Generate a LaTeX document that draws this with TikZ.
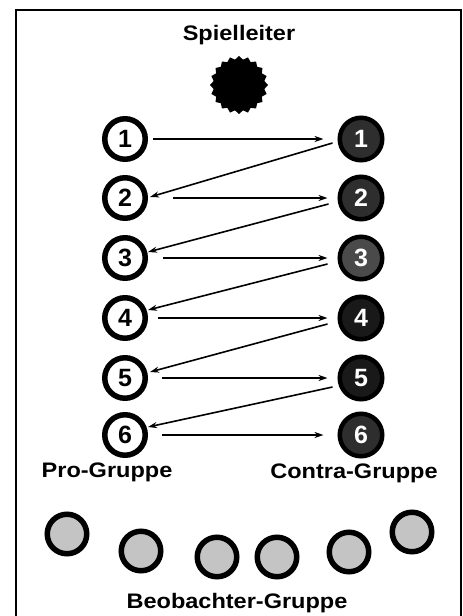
\documentclass[tikz,border=0pt]{standalone}
\usepackage{fontspec}
\usepackage{graphicx}
\setmainfont{Liberation Sans}
\usetikzlibrary{arrows.meta,shapes.geometric}
\definecolor{conFill}{HTML}{2E2E2E}
\definecolor{conFillB}{HTML}{4A4A4A}
\definecolor{obsFill}{HTML}{C4C4C4}
\newcommand{\wide}[1]{\scalebox{1.12}[1]{#1}}
\begin{document}
\begin{tikzpicture}[x=1pt,y=-1pt,
  lab/.style={font=\fontsize{21}{25}\selectfont\bfseries, anchor=base, inner sep=0pt},
  pro/.style={circle, draw=black, line width=5.5pt, fill=white, minimum size=40.5pt, inner sep=0pt, font=\fontsize{25}{25}\selectfont\bfseries},
  con/.style={circle, draw=black, line width=4.5pt, fill=conFill, text=white, minimum size=42.5pt, inner sep=0pt, font=\fontsize{25}{25}\selectfont\bfseries},
  obs/.style={circle, draw=black, line width=5.5pt, fill=obsFill, minimum size=39.5pt, inner sep=0pt},
  arr/.style={-{Stealth[length=9pt,width=6pt]}, line width=1.6pt},
  frame/.style={line width=2.5pt}
]
\useasboundingbox (0,0) rectangle (463,616);
\draw[frame] (16,618) -- (16,10) -- (461,10) -- (461,618);

% Spielleiter
\node[lab] (tSL) at (239,40) {\wide{Spielleiter}};
\node[star, star points=20, star point ratio=1.13, fill=black, minimum size=58pt, inner sep=0pt] (sl) at (239,85) {};

% Pro group
\node[pro] (l1) at (125,139) {1};
\node[pro] (l2) at (125,198) {2};
\node[pro] (l3) at (125,258) {3};
\node[pro] (l4) at (125,318) {4};
\node[pro] (l5) at (125,378) {5};
\node[pro] (l6) at (125,435) {6};

% Contra group
\node[con] (r1) at (361,139) {1};
\node[con] (r2) at (361,198) {2};
\node[con, fill=conFillB] (r3) at (361,258) {3};
\node[con, fill=black!90] (r4) at (361,318) {4};
\node[con, fill=black!90] (r5) at (361,378) {5};
\node[con] (r6) at (361,435) {6};

% horizontal arrows
\draw[arr, shorten <=5pt, shorten >=14pt] (l1.east) -- (r1.west);
\draw[arr, shorten <=25pt, shorten >=10pt] (l2.east) -- (r2.west);
\draw[arr, shorten <=15pt, shorten >=10pt] (l3.east) -- (r3.west);
\draw[arr, shorten <=10pt, shorten >=10pt] (l4.east) -- (r4.west);
\draw[arr, shorten <=14pt, shorten >=10pt] (l5.east) -- (r5.west);
\draw[arr, shorten <=14pt, shorten >=14pt] (l6.east) -- (r6.west);

% diagonal arrows
\draw[arr] ([shift={(-5,4)}]r1.west) -- ([shift={(2,-1)}]l2.east);
\draw[arr] ([shift={(-9,6)}]r2.west) -- ([shift={(0,-6)}]l3.east);
\draw[arr] ([shift={(-10,6)}]r3.west) -- ([shift={(0,-8)}]l4.east);
\draw[arr] ([shift={(-10,6)}]r4.west) -- ([shift={(2,-6)}]l5.east);
\draw[arr] ([shift={(-5,9)}]r5.west) -- ([shift={(0,-8)}]l6.east);

% group labels
\node[lab] (tPro) at (107,477) {\wide{Pro-Gruppe}};
\node[lab] (tCon) at (354,478) {\wide{Contra-Gruppe}};

% observers
\node[obs] (o1) at (67,534) {};
\node[obs] (o2) at (141,551) {};
\node[obs] (o3) at (217,557) {};
\node[obs] (o4) at (277,557) {};
\node[obs] (o5) at (349,552) {};
\node[obs] (o6) at (412,532) {};

\node[lab] (tObs) at (237,608) {\wide{Beobachter-Gruppe}};
\end{tikzpicture}
\end{document}
